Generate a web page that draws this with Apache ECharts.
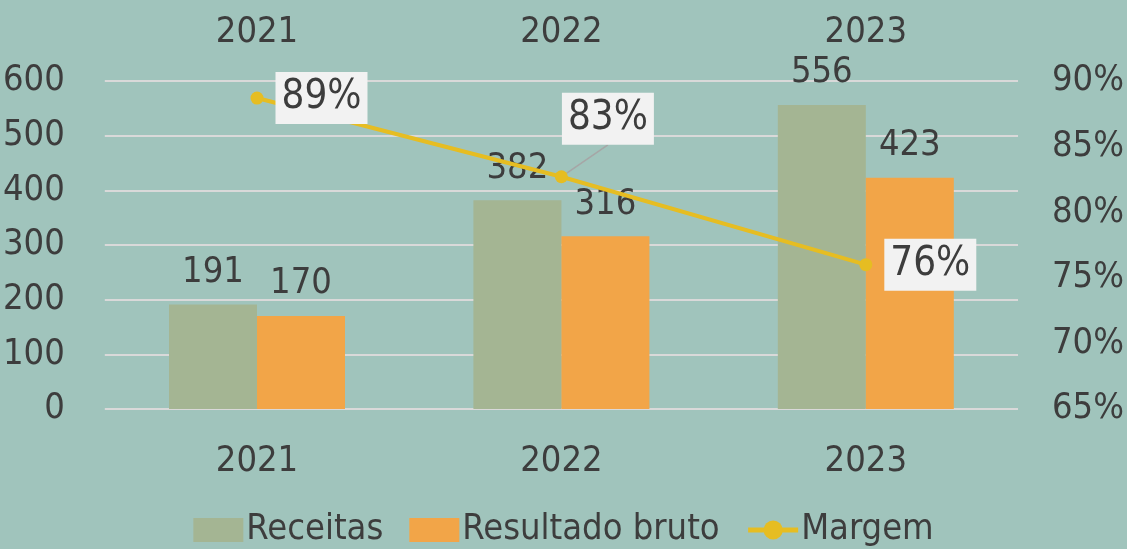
<!DOCTYPE html>
<html>
<head>
<meta charset="utf-8">
<script src="https://cdn.jsdelivr.net/npm/echarts@6/dist/echarts.min.js"></script>
<style>
  html, body { margin: 0; padding: 0; background: #a0c4bc; }
  #main { width: 1127px; height: 549px; }
</style>
</head>
<body>
<div id="main"></div>
<script>
var years = ['2021', '2022', '2023'];
var receitas = [191, 382, 556];
var resultado = [170, 316, 423];
var margem = [0.887, 0.827, 0.76];

var FONT = '"Liberation Sans Narrow", "DejaVu Sans Condensed", "Roboto", sans-serif';
var TXT = '#3d3d3d';

// only the middle label is pulled away from its point, with a leader line
var margemData = margem.map(function (v, i) {
    return { value: v, labelLine: { show: i === 1 } };
});

var myChart = echarts.init(document.getElementById('main'));
var option = {
    backgroundColor: '#a0c4bc',
    textStyle: { fontFamily: FONT, color: TXT },
    grid: { left: 98, right: 94, top: 81, bottom: 140 },
    legend: {
        bottom: -4,
        left: 'center',
        itemWidth: 50,
        itemHeight: 24,
        itemGap: 26,
        lineStyle: { width: 5 },
        textStyle: { fontFamily: FONT, fontSize: 36, color: TXT, padding: [0, 0, 0, -2] },
        data: [
            { name: 'Receitas', icon: 'rect' },
            { name: 'Resultado bruto', icon: 'rect' },
            { name: 'Margem' }
        ]
    },
    xAxis: [{
        type: 'category',
        data: years,
        axisLine: { show: false },
        axisTick: { show: false },
        axisLabel: { fontFamily: FONT, fontSize: 36, color: TXT, margin: 35 }
    }, {
        type: 'category',
        position: 'top',
        data: years,
        axisLine: { show: false },
        axisTick: { show: false },
        axisLabel: { fontFamily: FONT, fontSize: 36, color: TXT, margin: 30 }
    }],
    yAxis: [{
        type: 'value',
        min: 0, max: 600, interval: 100,
        axisLabel: { fontFamily: FONT, fontSize: 36, color: TXT, margin: 40 },
        splitLine: { lineStyle: { color: '#d9d9d9', width: 2 } }
    }, {
        type: 'value',
        min: 0.65, max: 0.9, interval: 0.05,
        axisLabel: {
            fontFamily: FONT, fontSize: 36, color: TXT, margin: 34,
            formatter: function (v) { return Math.round(v * 100) + '%'; }
        },
        splitLine: { show: false }
    }],
    series: [{
        name: 'Receitas',
        type: 'bar',
        data: receitas,
        barWidth: 88,
        barGap: '0%',
        itemStyle: { color: '#a4b593' },
        label: { show: true, position: 'top', distance: 14, fontFamily: FONT, fontSize: 36, color: TXT }
    }, {
        name: 'Resultado bruto',
        type: 'bar',
        data: resultado,
        barWidth: 88,
        barGap: '0%',
        itemStyle: { color: '#f2a548' },
        label: { show: true, position: 'top', distance: 14, fontFamily: FONT, fontSize: 36, color: TXT }
    }, {
        name: 'Margem',
        type: 'line',
        yAxisIndex: 1,
        data: margemData,
        symbol: 'circle',
        symbolSize: 13,
        lineStyle: { color: '#e6bd22', width: 4 },
        itemStyle: { color: '#e6bd22' },
        label: {
            show: true,
            position: 'right',
            distance: 12,
            fontFamily: FONT,
            fontSize: 40,
            color: TXT,
            backgroundColor: '#f2f2f2',
            padding: [7, 6, 5, 6],
            formatter: function (p) { return Math.round(p.value * 100) + '%'; }
        },
        labelLine: { lineStyle: { color: '#a6a6a6', width: 1.5 } },
        labelLayout: function (p) {
            if (p.dataIndex === 1) return { dx: -18, dy: -58 };
            return {};
        },
        z: 5
    }]
};
myChart.setOption(option);
</script>
</body>
</html>
